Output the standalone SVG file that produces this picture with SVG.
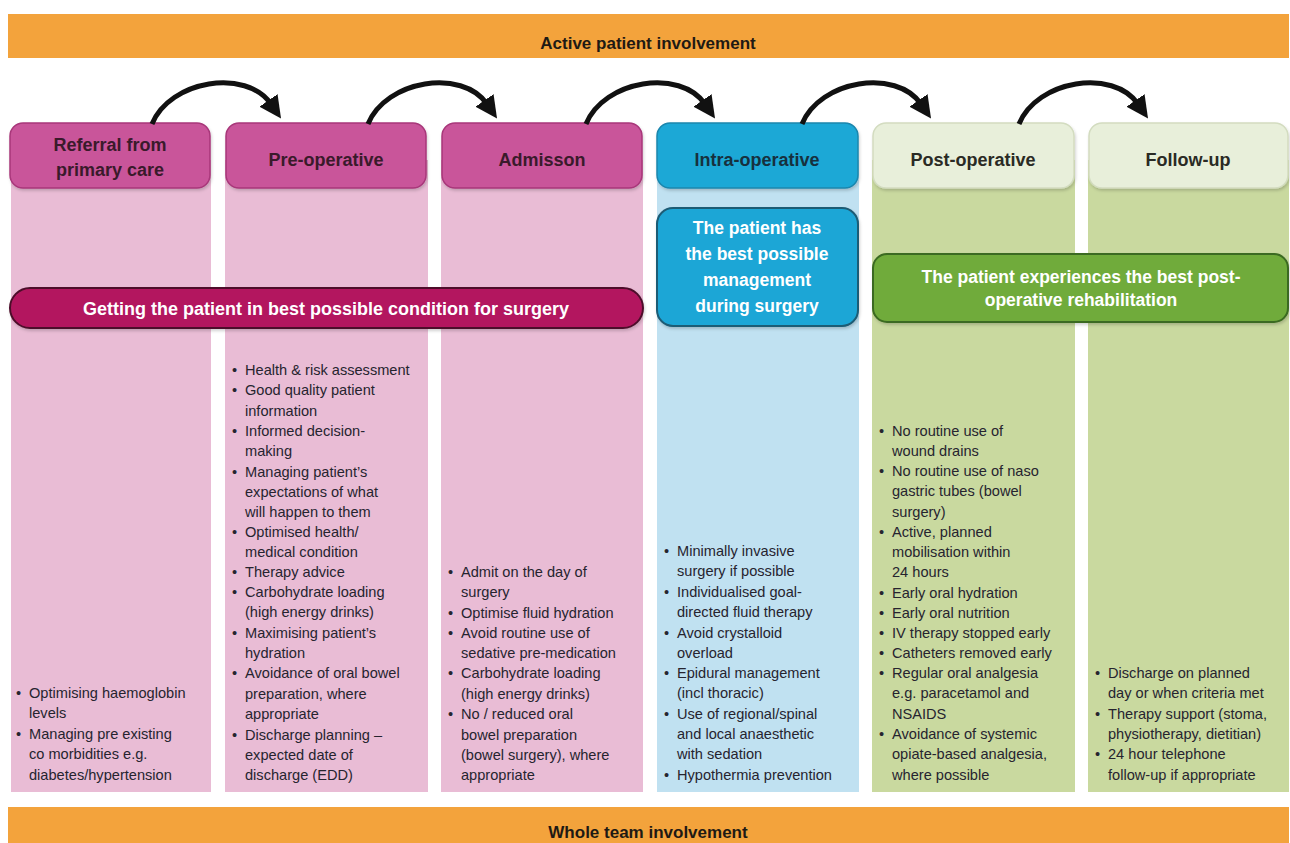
<svg xmlns="http://www.w3.org/2000/svg" width="1290" height="843" viewBox="0 0 1290 843">
  <style>
    .band { fill: #f3a33c; }
    .band-t { font-family: "Liberation Sans", Arial, sans-serif; font-weight: bold; font-size: 17px; fill: #1e1a14; text-anchor: middle; }
    .hd-t { font-family: "Liberation Sans", Arial, sans-serif; font-weight: bold; font-size: 18px; text-anchor: middle; }
    .goal-t { font-family: "Liberation Sans", Arial, sans-serif; font-weight: bold; font-size: 17.5px; fill: #ffffff; text-anchor: middle; }
    .li { font-family: "Liberation Sans", Arial, sans-serif; font-size: 14.6px; fill: #26242f; }
    .pink-bg { fill: #e9bcd5; }
    .blue-bg { fill: #c0e1f1; }
    .green-bg { fill: #c9d99f; }
    .pink-hd { fill: #c9559a; stroke: #a8377a; stroke-width: 1.5; }
    .blue-hd { fill: #1fa8d6; stroke: #1a86ad; stroke-width: 1.5; }
    .green-hd { fill: #e8efda; stroke: #d3dcc0; stroke-width: 1.5; }
    .arrow { fill: none; stroke: #111111; stroke-width: 5; marker-end: url(#head); }
  </style>
  <defs>
    <marker id="head" viewBox="0 0 10 10" refX="2" refY="5" markerWidth="22" markerHeight="22" markerUnits="userSpaceOnUse" orient="auto">
      <path d="M0,0 L10,5 L0,10 z" fill="#111111"/>
    </marker>
    <filter id="soft" x="-5%" y="-5%" width="110%" height="120%">
      <feDropShadow dx="1" dy="2" stdDeviation="1.5" flood-color="#000000" flood-opacity="0.18"/>
    </filter>
  </defs>

  <rect width="1290" height="843" fill="#ffffff"/>

  <!-- top band -->
  <g id="band-top">
    <rect class="band" x="8" y="14" width="1281" height="44"/>
    <text class="band-t" x="648" y="49">Active patient involvement</text>
  </g>

  <!-- column backgrounds -->
  <g id="columns">
    <rect class="pink-bg" x="11" y="160" width="200" height="632"/>
    <rect class="pink-bg" x="225" y="160" width="203" height="632"/>
    <rect class="pink-bg" x="441" y="160" width="202" height="632"/>
    <rect class="blue-bg" x="657" y="160" width="202" height="632"/>
    <rect class="green-bg" x="872" y="160" width="203" height="632"/>
    <rect class="green-bg" x="1088" y="160" width="201" height="632"/>
  </g>

  <!-- stage headers -->
  <g id="stage-referral">
    <rect class="pink-hd" x="10" y="123" width="200" height="65" rx="13" filter="url(#soft)"/>
    <text class="hd-t" x="110" y="151" fill="#3a1a2b">Referral from</text>
    <text class="hd-t" x="110" y="176" fill="#3a1a2b">primary care</text>
  </g>
  <g id="stage-preop">
    <rect class="pink-hd" x="226" y="123" width="200" height="65" rx="13" filter="url(#soft)"/>
    <text class="hd-t" x="326" y="166" fill="#3a1a2b">Pre-operative</text>
  </g>
  <g id="stage-admission">
    <rect class="pink-hd" x="442" y="123" width="200" height="65" rx="13" filter="url(#soft)"/>
    <text class="hd-t" x="542" y="166" fill="#3a1a2b">Admisson</text>
  </g>
  <g id="stage-intraop">
    <rect class="blue-hd" x="657" y="123" width="201" height="65" rx="13" filter="url(#soft)"/>
    <text class="hd-t" x="757" y="166" fill="#17303e">Intra-operative</text>
  </g>
  <g id="stage-postop">
    <rect class="green-hd" x="873" y="123" width="201" height="65" rx="13" filter="url(#soft)"/>
    <text class="hd-t" x="973" y="166" fill="#2a2a24">Post-operative</text>
  </g>
  <g id="stage-followup">
    <rect class="green-hd" x="1089" y="123" width="199" height="65" rx="13" filter="url(#soft)"/>
    <text class="hd-t" x="1188" y="166" fill="#2a2a24">Follow-up</text>
  </g>

  <!-- flow arrows between stages -->
  <g id="connectors">
    <path class="arrow" d="M152,124 C170,80 246,68 271,104"/>
    <path class="arrow" d="M368,124 C386,80 462,68 487,104"/>
    <path class="arrow" d="M586,124 C604,80 680,68 705,104"/>
    <path class="arrow" d="M802,124 C820,80 896,68 921,104"/>
    <path class="arrow" d="M1019,124 C1037,80 1113,68 1138,104"/>
  </g>

  <!-- goal banners -->
  <g id="goal-condition">
    <rect x="10" y="288" width="633" height="40" rx="20" fill="#b3195f" stroke="#4e0f2c" stroke-width="2" filter="url(#soft)"/>
    <text class="goal-t" x="326" y="315" style="font-size:18px">Getting the patient in best possible condition for surgery</text>
  </g>
  <g id="goal-surgery">
    <rect x="657" y="208" width="201" height="118" rx="16" fill="#1fa6d6" stroke="#1b5b74" stroke-width="2" filter="url(#soft)"/>
    <text class="goal-t" x="757" y="234">The patient has</text>
    <text class="goal-t" x="757" y="260">the best possible</text>
    <text class="goal-t" x="757" y="286">management</text>
    <text class="goal-t" x="757" y="312">during surgery</text>
  </g>
  <g id="goal-rehab">
    <rect x="873" y="254" width="415" height="68" rx="14" fill="#6fab3b" stroke="#3b6a20" stroke-width="2" filter="url(#soft)"/>
    <text class="goal-t" x="1081" y="283">The patient experiences the best post-</text>
    <text class="goal-t" x="1081" y="306">operative rehabilitation</text>
  </g>

  <!-- bullet lists -->
  <g id="list-referral" class="li">
    <text x="16" y="698">•</text><text x="29" y="698">Optimising haemoglobin</text>
    <text x="29" y="718">levels</text>
    <text x="16" y="739">•</text><text x="29" y="739">Managing pre existing</text>
    <text x="29" y="759">co morbidities e.g.</text>
    <text x="29" y="780">diabetes/hypertension</text>
  </g>

  <g id="list-preop" class="li">
    <text x="232" y="375">•</text><text x="245" y="375">Health &amp; risk assessment</text>
    <text x="232" y="395">•</text><text x="245" y="395">Good quality patient</text>
    <text x="245" y="416">information</text>
    <text x="232" y="436">•</text><text x="245" y="436">Informed decision-</text>
    <text x="245" y="456">making</text>
    <text x="232" y="477">•</text><text x="245" y="477">Managing patient’s</text>
    <text x="245" y="497">expectations of what</text>
    <text x="245" y="517">will happen to them</text>
    <text x="232" y="537">•</text><text x="245" y="537">Optimised health/</text>
    <text x="245" y="557">medical condition</text>
    <text x="232" y="577">•</text><text x="245" y="577">Therapy advice</text>
    <text x="232" y="597">•</text><text x="245" y="597">Carbohydrate loading</text>
    <text x="245" y="617">(high energy drinks)</text>
    <text x="232" y="638">•</text><text x="245" y="638">Maximising patient’s</text>
    <text x="245" y="658">hydration</text>
    <text x="232" y="678">•</text><text x="245" y="678">Avoidance of oral bowel</text>
    <text x="245" y="699">preparation, where</text>
    <text x="245" y="719">appropriate</text>
    <text x="232" y="740">•</text><text x="245" y="740">Discharge planning –</text>
    <text x="245" y="760">expected date of</text>
    <text x="245" y="780">discharge (EDD)</text>
  </g>

  <g id="list-admission" class="li">
    <text x="448" y="577">•</text><text x="461" y="577">Admit on the day of</text>
    <text x="461" y="597">surgery</text>
    <text x="448" y="618">•</text><text x="461" y="618">Optimise fluid hydration</text>
    <text x="448" y="638">•</text><text x="461" y="638">Avoid routine use of</text>
    <text x="461" y="658">sedative pre-medication</text>
    <text x="448" y="678">•</text><text x="461" y="678">Carbohydrate loading</text>
    <text x="461" y="699">(high energy drinks)</text>
    <text x="448" y="719">•</text><text x="461" y="719">No / reduced oral</text>
    <text x="461" y="740">bowel preparation</text>
    <text x="461" y="760">(bowel surgery), where</text>
    <text x="461" y="780">appropriate</text>
  </g>

  <g id="list-intraop" class="li">
    <text x="664" y="556">•</text><text x="677" y="556">Minimally invasive</text>
    <text x="677" y="576">surgery if possible</text>
    <text x="664" y="597">•</text><text x="677" y="597">Individualised goal-</text>
    <text x="677" y="617">directed fluid therapy</text>
    <text x="664" y="638">•</text><text x="677" y="638">Avoid crystalloid</text>
    <text x="677" y="658">overload</text>
    <text x="664" y="678">•</text><text x="677" y="678">Epidural management</text>
    <text x="677" y="698">(incl thoracic)</text>
    <text x="664" y="719">•</text><text x="677" y="719">Use of regional/spinal</text>
    <text x="677" y="739">and local anaesthetic</text>
    <text x="677" y="759">with sedation</text>
    <text x="664" y="780">•</text><text x="677" y="780">Hypothermia prevention</text>
  </g>

  <g id="list-postop" class="li">
    <text x="879" y="436">•</text><text x="892" y="436">No routine use of</text>
    <text x="892" y="456">wound drains</text>
    <text x="879" y="476">•</text><text x="892" y="476">No routine use of naso</text>
    <text x="892" y="496">gastric tubes (bowel</text>
    <text x="892" y="517">surgery)</text>
    <text x="879" y="537">•</text><text x="892" y="537">Active, planned</text>
    <text x="892" y="557">mobilisation within</text>
    <text x="892" y="577">24 hours</text>
    <text x="879" y="598">•</text><text x="892" y="598">Early oral hydration</text>
    <text x="879" y="618">•</text><text x="892" y="618">Early oral nutrition</text>
    <text x="879" y="638">•</text><text x="892" y="638">IV therapy stopped early</text>
    <text x="879" y="658">•</text><text x="892" y="658">Catheters removed early</text>
    <text x="879" y="678">•</text><text x="892" y="678">Regular oral analgesia</text>
    <text x="892" y="698">e.g. paracetamol and</text>
    <text x="892" y="719">NSAIDS</text>
    <text x="879" y="739">•</text><text x="892" y="739">Avoidance of systemic</text>
    <text x="892" y="759">opiate-based analgesia,</text>
    <text x="892" y="780">where possible</text>
  </g>

  <g id="list-followup" class="li">
    <text x="1095" y="678">•</text><text x="1108" y="678">Discharge on planned</text>
    <text x="1108" y="698">day or when criteria met</text>
    <text x="1095" y="719">•</text><text x="1108" y="719">Therapy support (stoma,</text>
    <text x="1108" y="739">physiotherapy, dietitian)</text>
    <text x="1095" y="759">•</text><text x="1108" y="759">24 hour telephone</text>
    <text x="1108" y="780">follow-up if appropriate</text>
  </g>

  <!-- bottom band -->
  <g id="band-bottom">
    <rect class="band" x="8" y="807" width="1281" height="36"/>
    <text class="band-t" x="648" y="838">Whole team involvement</text>
  </g>
</svg>
